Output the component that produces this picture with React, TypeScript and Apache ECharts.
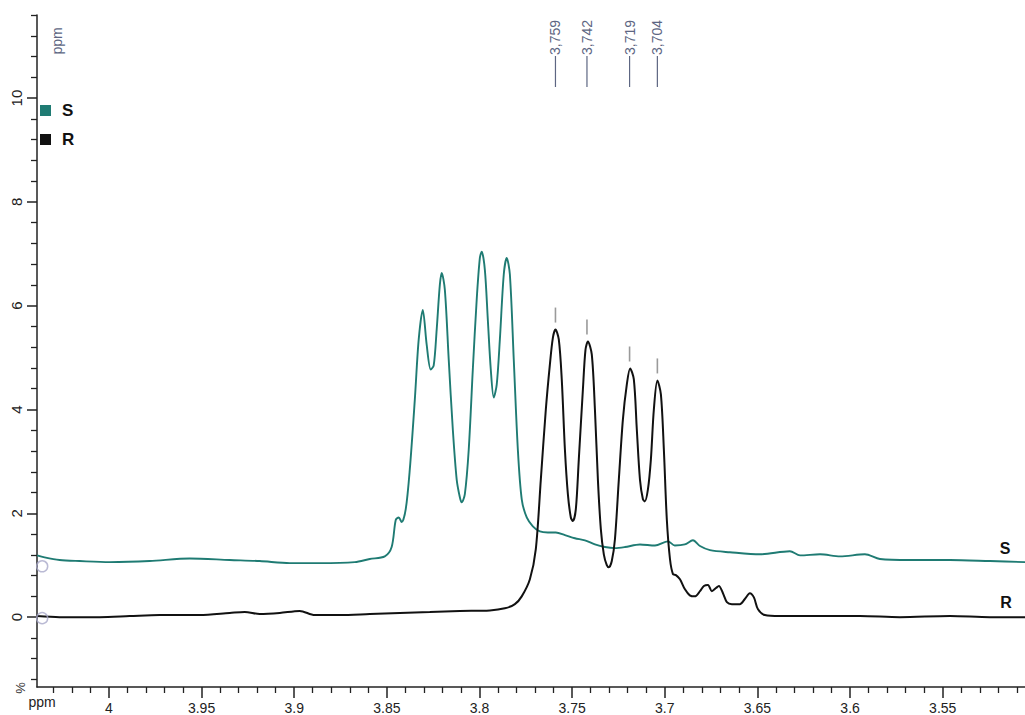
import React, { useEffect, useRef } from "react";
import * as echarts from "echarts";

// ---- data ----
const sShift = [
  4.0388, 4.0347, 4.0266, 4.0158, 3.9996, 3.978, 3.9564, 3.9348, 3.9186, 3.9024,
  3.8862, 3.8673, 3.8592, 3.8511, 3.8474, 3.8452, 3.8436, 3.842, 3.8398, 3.8376,
  3.8349, 3.8328, 3.8306, 3.8285, 3.8263, 3.8247, 3.8231, 3.8214, 3.8204, 3.8187,
  3.8166, 3.8144, 3.8123, 3.8106, 3.8096, 3.8079, 3.8058, 3.8036, 3.8015, 3.7998,
  3.7988, 3.7971, 3.7955, 3.7939, 3.7923, 3.7907, 3.789, 3.7869, 3.7853, 3.7836,
  3.7815, 3.7793, 3.7772, 3.7745, 3.7712, 3.7674, 3.7631, 3.7588, 3.7539, 3.7485,
  3.7431, 3.7377, 3.7323, 3.7269, 3.7215, 3.7134, 3.7053, 3.6983, 3.6946, 3.6892,
  3.6848, 3.681, 3.6756, 3.6649, 3.6486, 3.6325, 3.627, 3.6162, 3.6054, 3.592,
  3.5839, 3.5677, 3.5461, 3.5245, 3.5056,
];
const sIntensity = [
  1.19, 1.15, 1.1, 1.08, 1.06, 1.08, 1.13, 1.1, 1.08, 1.04,
  1.04, 1.06, 1.12, 1.17, 1.35, 1.87, 1.92, 1.83, 2.08, 2.85,
  4.19, 5.35, 5.92, 5.25, 4.77, 4.85, 5.54, 6.4, 6.63, 6.31,
  4.96, 3.62, 2.65, 2.31, 2.21, 2.37, 3.23, 4.77, 6.12, 6.92,
  7.04, 6.69, 5.73, 4.77, 4.23, 4.48, 5.35, 6.6, 6.92, 6.6,
  4.96, 3.23, 2.27, 1.92, 1.75, 1.65, 1.63, 1.63, 1.58, 1.52,
  1.48, 1.4, 1.35, 1.33, 1.35, 1.4, 1.38, 1.46, 1.38, 1.4,
  1.48, 1.37, 1.29, 1.25, 1.21, 1.27, 1.19, 1.21, 1.17, 1.21,
  1.12, 1.1, 1.1, 1.08, 1.06,
];
const rShift = [
  4.0388, 4.0266, 4.005, 3.9888, 3.9726, 3.951, 3.9348, 3.9267, 3.9186, 3.9078,
  3.897, 3.8889, 3.8754, 3.8592, 3.843, 3.8268, 3.8106, 3.7944, 3.7863, 3.7809,
  3.7772, 3.7728, 3.7696, 3.7669, 3.7642, 3.762, 3.7604, 3.759, 3.7572, 3.7556,
  3.7539, 3.7523, 3.7507, 3.7496, 3.748, 3.7464, 3.7442, 3.7428, 3.7415, 3.7394,
  3.7377, 3.7361, 3.7345, 3.7329, 3.7313, 3.7302, 3.7286, 3.7269, 3.7248, 3.7226,
  3.7205, 3.7187, 3.7167, 3.7151, 3.7134, 3.7118, 3.7108, 3.7091, 3.7075, 3.7059,
  3.704, 3.7021, 3.7005, 3.6989, 3.6972, 3.6956, 3.694, 3.6918, 3.6892, 3.6865,
  3.6838, 3.681, 3.6789, 3.6767, 3.6746, 3.6724, 3.6708, 3.6686, 3.6665, 3.6638,
  3.6595, 3.6568, 3.6541, 3.6519, 3.6497, 3.646, 3.6379, 3.6162, 3.5947, 3.5731,
  3.5461, 3.5245, 3.5056,
];
const rIntensity = [
  0.02, 0.0, 0.0, 0.02, 0.04, 0.04, 0.08, 0.1, 0.06, 0.08,
  0.12, 0.04, 0.04, 0.06, 0.08, 0.1, 0.12, 0.13, 0.17, 0.25,
  0.4, 0.73, 1.31, 2.65, 4.0, 4.87, 5.38, 5.54, 5.35, 4.58,
  3.23, 2.37, 1.92, 1.85, 2.08, 3.04, 4.38, 5.15, 5.31, 5.06,
  4.0, 2.65, 1.69, 1.21, 1.0, 0.96, 1.08, 1.5, 2.65, 3.81,
  4.48, 4.79, 4.58, 3.62, 2.65, 2.27, 2.23, 2.46, 3.04, 4.0,
  4.56, 4.29, 3.23, 1.88, 1.12, 0.83, 0.81, 0.73, 0.54, 0.42,
  0.4, 0.5, 0.6, 0.62, 0.5, 0.56, 0.6, 0.46, 0.29, 0.25,
  0.25, 0.35, 0.46, 0.38, 0.15, 0.04, 0.02, 0.02, 0.02, 0.0,
  0.02, 0.0, 0.0,
];
const peakShifts = [3.759, 3.742, 3.719, 3.704];
const peakHeights = [5.54, 5.31, 4.79, 4.56];
const refShift = [4.036, 4.036];
const refIntensity = [0.98, -0.02];
const xMajorTicks = [4, 3.95, 3.9, 3.85, 3.8, 3.75, 3.7, 3.65, 3.6, 3.55];
const yMajorTicks = [0, 2, 4, 6, 8, 10];
const seriesNames = ["S", "R"];

const X_MIN = 3.5056;
const X_MAX = 4.0388;
const Y_MIN = -1.346;
const Y_MAX = 11.6;

const xMinorTicks: number[] = [];
for (let i = 351; i <= 403; i++) if (i % 5 !== 0) xMinorTicks.push(i / 100);
const yMinorTicks: number[] = [];
for (let i = -3; i <= 29; i++) if (i % 5 !== 0) yMinorTicks.push(Math.round(i * 4) / 10);

const FONT = "'Liberation Sans', Arial, Helvetica, sans-serif";
const AXIS_COLOR = "#222";
const TEAL = "#1f7b73";
const BLACK = "#111111";
const LABEL_BLUE = "#5d6682";

export default function App() {
  const ref = useRef<HTMLDivElement>(null);
  useEffect(() => {
    if (!ref.current) return;
    const chart = echarts.init(ref.current, undefined, { renderer: "svg" });
    const sData = sShift.map((x, i) => [x, sIntensity[i]]);
    const rData = rShift.map((x, i) => [x, rIntensity[i]]);
    const option: any = {
      animation: false,
      backgroundColor: "#ffffff",
      textStyle: { fontFamily: FONT },
      grid: { left: 37, right: 0, top: 15, bottom: 27, containLabel: false },
      legend: {
        data: seriesNames.map((n) => ({ name: n, icon: "rect" })),
        orient: "vertical",
        left: 35,
        top: 97,
        itemWidth: 11,
        itemHeight: 11,
        itemGap: 12,
        textStyle: { fontSize: 17, fontWeight: "bold", color: "#111", padding: [0, 0, 0, 6], fontFamily: FONT },
      },
      xAxis: [
        {
          type: "value",
          min: X_MIN,
          max: X_MAX,
          inverse: true,
          position: "bottom",
          axisLine: { show: true, onZero: false, lineStyle: { color: AXIS_COLOR, width: 1.5 } },
          axisTick: { show: true, customValues: xMajorTicks, length: 11, lineStyle: { color: AXIS_COLOR, width: 1.5 } },
          axisLabel: {
            customValues: xMajorTicks,
            formatter: (v: number) => String(parseFloat(v.toFixed(2))),
            fontSize: 14,
            color: AXIS_COLOR,
            margin: 14,
            fontFamily: FONT,
          },
          splitLine: { show: false },
        },
        {
          type: "value",
          min: X_MIN,
          max: X_MAX,
          inverse: true,
          position: "bottom",
          axisLine: { show: false, onZero: false },
          axisTick: { show: true, customValues: xMinorTicks, length: 6, lineStyle: { color: AXIS_COLOR, width: 1.3 } },
          axisLabel: { show: false },
          splitLine: { show: false },
        },
      ],
      yAxis: [
        {
          type: "value",
          min: Y_MIN,
          max: Y_MAX,
          position: "left",
          axisLine: { show: true, onZero: false, lineStyle: { color: AXIS_COLOR, width: 1.5 } },
          axisTick: { show: true, customValues: yMajorTicks, length: 10, lineStyle: { color: AXIS_COLOR, width: 1.5 } },
          axisLabel: {
            customValues: yMajorTicks,
            rotate: 90,
            fontSize: 15,
            color: AXIS_COLOR,
            margin: 13,
            fontFamily: FONT,
          },
          splitLine: { show: false },
        },
        {
          type: "value",
          min: Y_MIN,
          max: Y_MAX,
          position: "left",
          axisLine: { show: false, onZero: false },
          axisTick: { show: true, customValues: yMinorTicks, length: 6, lineStyle: { color: AXIS_COLOR, width: 1.3 } },
          axisLabel: { show: false },
          splitLine: { show: false },
        },
      ],
      series: [
        {
          name: "S",
          type: "line",
          data: sData,
          showSymbol: false,
          smooth: 0.3,
          color: TEAL,
          itemStyle: { color: TEAL },
          lineStyle: { color: TEAL, width: 1.9 },
          z: 2,
        },
        {
          name: "R",
          type: "line",
          data: rData,
          showSymbol: false,
          smooth: 0.3,
          color: BLACK,
          itemStyle: { color: BLACK },
          lineStyle: { color: BLACK, width: 2 },
          z: 3,
        },
        {
          name: "ref",
          type: "scatter",
          data: refShift.map((x, i) => [x, refIntensity[i]]),
          symbol: "circle",
          symbolSize: 11,
          itemStyle: { color: "rgba(0,0,0,0)", borderColor: "#a9a9c9", borderWidth: 1.5 },
          silent: true,
          z: 4,
        },
        {
          name: "peaks",
          type: "custom",
          data: peakShifts.map((x, i) => [x, peakHeights[i]]),
          clip: false,
          silent: true,
          z: 5,
          renderItem: (_params: any, api: any) => {
            const ppm = api.value(0);
            const h = api.value(1);
            const pt = api.coord([ppm, h]);
            const x = pt[0];
            const label = ppm.toFixed(3).replace(".", ",");
            return {
              type: "group",
              children: [
                { type: "line", shape: { x1: x, y1: 56, x2: x, y2: 87 }, style: { stroke: LABEL_BLUE, lineWidth: 1.2 } },
                {
                  type: "text",
                  x: x,
                  y: 55,
                  rotation: Math.PI / 2,
                  style: {
                    text: label,
                    fill: LABEL_BLUE,
                    font: "14px 'Liberation Sans', Arial, sans-serif",
                    align: "left",
                    verticalAlign: "middle",
                  },
                },
                { type: "line", shape: { x1: x, y1: pt[1] - 22, x2: x, y2: pt[1] - 7 }, style: { stroke: "#9a9a9a", lineWidth: 1.6 } },
              ],
            };
          },
        },
      ],
      graphic: [
        { type: "text", x: 1005, y: 548, style: { text: "S", font: "bold 16px 'Liberation Sans', Arial, sans-serif", fill: "#111", align: "center", verticalAlign: "middle" } },
        { type: "text", x: 1006, y: 602, style: { text: "R", font: "bold 16px 'Liberation Sans', Arial, sans-serif", fill: "#111", align: "center", verticalAlign: "middle" } },
        { type: "text", x: 57, y: 41, rotation: Math.PI / 2, style: { text: "ppm", font: "14px 'Liberation Sans', Arial, sans-serif", fill: LABEL_BLUE, align: "center", verticalAlign: "middle" } },
        { type: "text", x: 20, y: 688, rotation: Math.PI / 2, style: { text: "%", font: "13px 'Liberation Sans', Arial, sans-serif", fill: "#333", align: "center", verticalAlign: "middle" } },
        { type: "text", x: 42, y: 702, style: { text: "ppm", font: "14px 'Liberation Sans', Arial, sans-serif", fill: "#222", align: "center", verticalAlign: "middle" } },
      ],
    };
    chart.setOption(option);
    return () => chart.dispose();
  }, []);
  return <div ref={ref} style={{ position: "fixed", left: 0, top: 0, width: 1025, height: 715 }} />;
}
